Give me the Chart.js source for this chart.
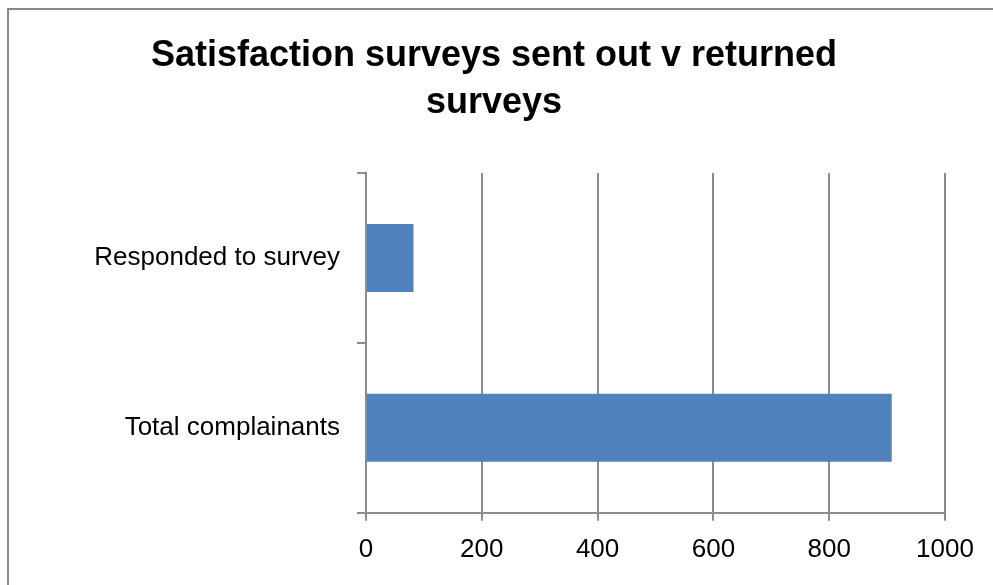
<!DOCTYPE html>
<html>
<head>
<meta charset="utf-8">
<script src="https://cdn.jsdelivr.net/npm/chart.js@4/dist/chart.umd.min.js"></script>
<style>
  html, body { margin: 0; padding: 0; background: #fff; overflow: hidden; }
  #wrap { position: relative; width: 993px; height: 585px; }
  canvas { position: absolute; left: 0; top: 0; }
  #frame { position: absolute; left: 7px; top: 8px; width: 2000px; height: 2000px;
           border-left: 2px solid #898989; border-top: 2px solid #898989; pointer-events: none; }
</style>
</head>
<body>
<div id="wrap">
  <canvas id="c" width="993" height="585"></canvas>
  <div id="frame"></div>
</div>
<script>
const titleLines = ['Satisfaction surveys sent out v returned', 'surveys'];
const categories = ['Responded to survey', 'Total complainants'];
const values = [82, 908];
const xTicks = [0, 200, 400, 600, 800, 1000];

const FONT = "'Liberation Sans', Arial, sans-serif";
const GRID = '#8c8c8c';

new Chart(document.getElementById('c'), {
  type: 'bar',
  data: {
    labels: categories,
    datasets: [{
      data: values,
      backgroundColor: '#4F81BD',
      borderWidth: 0,
      categoryPercentage: 1,
      barPercentage: 0.4
    }]
  },
  options: {
    indexAxis: 'y',
    responsive: false,
    animation: false,
    layout: { padding: { left: 43, right: 48, top: 0, bottom: 7 } },
    plugins: {
      legend: { display: false },
      tooltip: { enabled: false },
      title: {
        display: true,
        text: titleLines,
        color: '#000',
        font: { family: FONT, size: 36, weight: 'bold', lineHeight: 1.3 },
        padding: { top: 33, bottom: 46.4 }
      }
    },
    scales: {
      x: {
        min: 0, max: 1000,
        afterBuildTicks: (s) => { s.ticks = xTicks.map(v => ({ value: v })); },
        grid: { color: GRID, lineWidth: 2, tickLength: 8, drawTicks: true },
        border: { display: true, color: GRID, width: 2 },
        ticks: { color: '#000', padding: 13, font: { family: FONT, size: 26 }, maxRotation: 0,
                 callback: (v) => String(v) }
      },
      y: {
        afterFit: (s) => { s.width = 366 - 43; },
        grid: { drawOnChartArea: false, color: GRID, lineWidth: 2, tickLength: 9, offset: true },
        border: { display: true, color: GRID, width: 2 },
        ticks: { color: '#000', padding: 17, font: { family: FONT, size: 26 } }
      }
    }
  }
});
</script>
</body>
</html>
